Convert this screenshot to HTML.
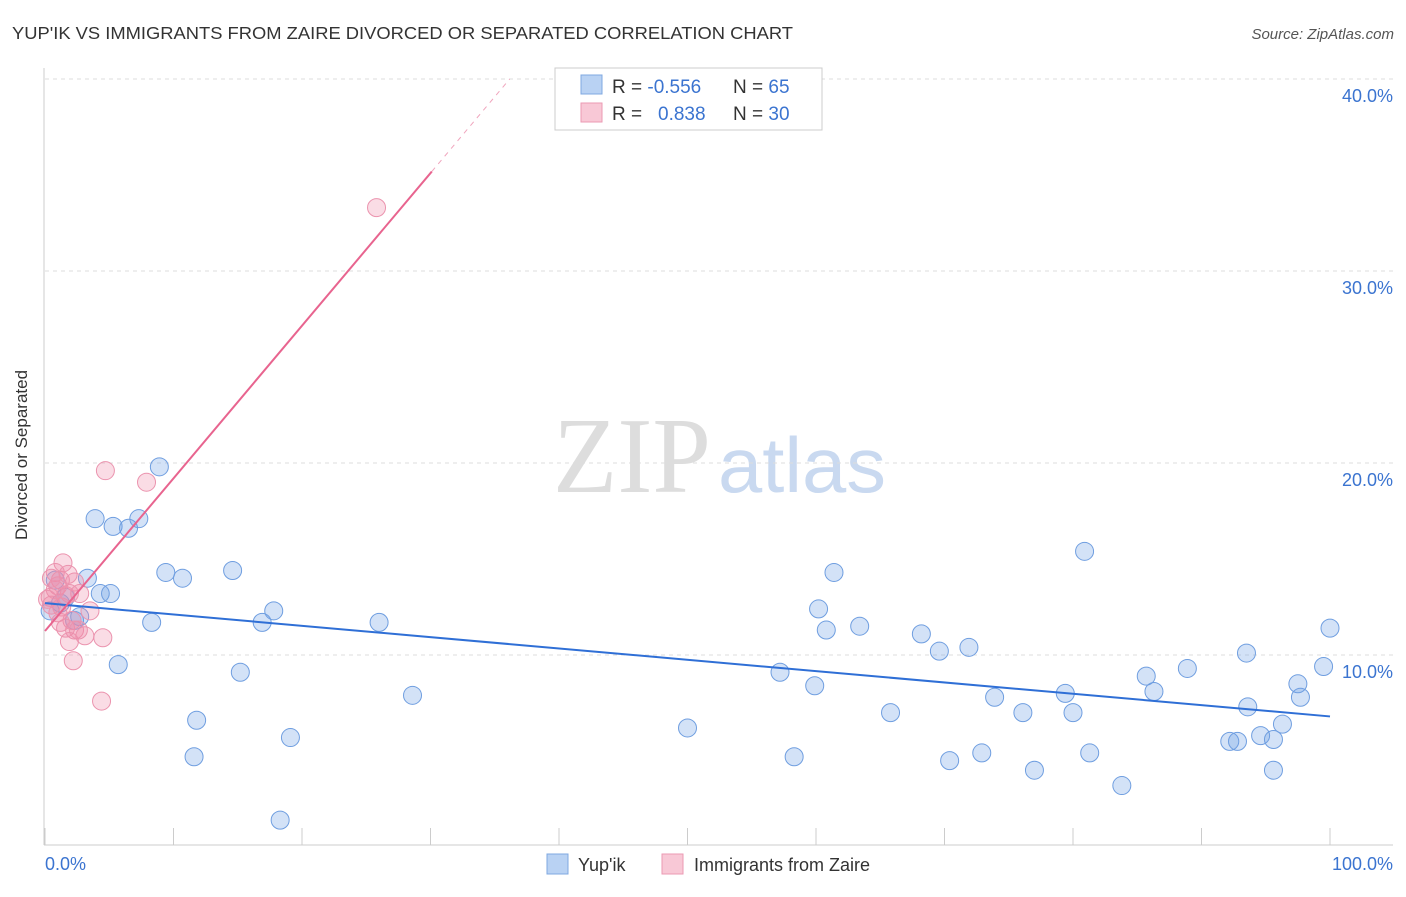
<!DOCTYPE html>
<html><head><meta charset="utf-8"><style>
body{margin:0;background:#fff;font-family:"Liberation Sans",sans-serif;}
</style></head><body>
<svg width="1406" height="892" xmlns="http://www.w3.org/2000/svg">
<text x="12" y="39" font-size="17.5" fill="#333" textLength="781" lengthAdjust="spacingAndGlyphs">YUP'IK VS IMMIGRANTS FROM ZAIRE DIVORCED OR SEPARATED CORRELATION CHART</text>
<text x="1394" y="39" font-size="15" fill="#555" text-anchor="end" font-style="italic">Source: ZipAtlas.com</text>
<text x="553" y="492" font-size="108" fill="#ddd" font-family="Liberation Serif,serif" textLength="158" lengthAdjust="spacingAndGlyphs">ZIP</text>
<text x="718" y="492" font-size="78" fill="#c9d9f0" textLength="168" lengthAdjust="spacingAndGlyphs">atlas</text>
<g id="grid"></g>
<line x1="44" y1="68" x2="44" y2="845" stroke="#ccc"/>
<line x1="44" y1="845" x2="1393" y2="845" stroke="#ccc"/>
<g id="ticks"></g>
<text x="27" y="455" font-size="17" fill="#333" transform="rotate(-90 27 455)" text-anchor="middle">Divorced or Separated</text>
<g id="pts"></g>
<g id="lines"></g>
<g>
<rect x="555" y="68" width="267" height="62" fill="#fff" stroke="#ccc"/>
<rect x="581" y="75" width="21" height="19" fill="#b9d2f3" stroke="#7fa8e0"/>
<rect x="581" y="103" width="21" height="19" fill="#f8c8d6" stroke="#eb9ab3"/>
<text x="612" y="93" font-size="19" fill="#333">R = <tspan fill="#3b74d0">-0.556</tspan></text>
<text x="733" y="93" font-size="19" fill="#333">N = <tspan fill="#3b74d0">65</tspan></text>
<text x="612" y="120" font-size="19" fill="#333">R = <tspan fill="#3b74d0" x="658">0.838</tspan></text>
<text x="733" y="120" font-size="19" fill="#333">N = <tspan fill="#3b74d0">30</tspan></text>
</g>
<g>
<rect x="547" y="854" width="21" height="20" fill="#b9d2f3" stroke="#7fa8e0"/>
<text x="578" y="871" font-size="18" fill="#333">Yup'ik</text>
<rect x="662" y="854" width="21" height="20" fill="#f8c8d6" stroke="#eb9ab3"/>
<text x="694" y="871" font-size="18" fill="#333">Immigrants from Zaire</text>
</g>
</svg>
<script>
const blueX=[8.9,3.9,5.3,6.5,7.3,9.4,10.7,14.6,3.3,4.3,5.1,17.8,8.3,16.9,26.0,5.7,15.2,28.6,11.8,11.6,19.1,18.3,50.0,57.2,58.3,59.9,60.2,60.8,61.4,63.4,65.8,68.2,69.6,70.4,71.9,72.9,73.9,76.1,77.0,79.4,80.0,80.9,81.3,83.8,85.7,86.3,88.9,92.2,92.8,93.5,93.6,94.6,95.6,95.6,96.3,97.5,97.7,99.5,100,0.8,1.2,1.6,2.7,2.3,0.4];
const blueY=[19.8,17.1,16.7,16.6,17.1,14.3,14.0,14.4,14.0,13.2,13.2,12.3,11.7,11.7,11.7,9.5,9.1,7.9,6.6,4.7,5.7,1.4,6.2,9.1,4.7,8.4,12.4,11.3,14.3,11.5,7.0,11.1,10.2,4.5,10.4,4.9,7.8,7.0,4.0,8.0,7.0,15.4,4.9,3.2,8.9,8.1,9.3,5.5,5.5,10.1,7.3,5.8,5.6,4.0,6.4,8.5,7.8,9.4,11.4,13.9,12.7,13.0,12.0,11.8,12.3];
const pinkX=[25.8,4.7,7.9,1.4,0.8,1.2,1.0,2.3,2.7,1.9,0.4,0.5,1.3,3.5,2.1,1.6,2.3,3.1,4.5,1.9,2.2,4.4,0.8,0.2,1.0,1.6,2.6,1.8,0.5,1.2];
const pinkY=[33.3,19.6,19.0,14.8,14.3,13.9,13.6,13.8,13.2,13.2,13.0,12.6,12.5,12.3,11.8,11.4,11.3,11.0,10.9,10.7,9.7,7.6,13.4,12.9,12.2,13.1,11.3,14.2,14.0,11.7];
const yTicks=[10,20,30,40];
const yTickLabels=["10.0%","20.0%","30.0%","40.0%"];
const xTicks=[0,10,20,30,40,50,60,70,80,90,100];
const blueTrend=[12.7,6.8];   // y at x=0, x=100
const pinkTrend=[11.25,0.795]; // intercept, slope
const sx=v=>45+v*12.85, sy=v=>847-v*19.2;
const NS="http://www.w3.org/2000/svg";
function mk(t,a,p){const e=document.createElementNS(NS,t);for(const k in a)e.setAttribute(k,a[k]);p.appendChild(e);return e;}
const grid=document.getElementById('grid');
const tl=mk('line',{x1:45,y1:79,x2:1393,y2:79,stroke:'#ddd','stroke-dasharray':'4,4'},grid);


yTicks.forEach((v,i)=>{
 const l=mk('line',{x1:45,y1:sy(v),x2:1393,y2:sy(v),stroke:'#ddd','stroke-dasharray':'4,4'},grid);
 
 
 const t=mk('text',{x:1393,y:sy(v)+23,'font-size':18,fill:'#3b74d0','text-anchor':'end'},grid);
 t.textContent=yTickLabels[i];
 
 
});
const tk=document.getElementById('ticks');
xTicks.forEach(v=>{
 const l=mk('line',{x1:sx(v),y1:828,x2:sx(v),y2:845,stroke:'#ccc'},tk);
 
 
});
const x0=mk('text',{x:45,y:870,'font-size':18,fill:'#3b74d0'},tk);x0.textContent='0.0%';


const x1=mk('text',{x:1393,y:870,'font-size':18,fill:'#3b74d0','text-anchor':'end'},tk);x1.textContent='100.0%';


const pts=document.getElementById('pts');
blueX.forEach((x,i)=>{
 const c=mk('circle',{cx:sx(x),cy:sy(blueY[i]),r:9,fill:'rgba(110,160,230,0.3)',stroke:'#6f9ee0','stroke-width':1},pts);
 
 
});
pinkX.forEach((x,i)=>{
 const c=mk('circle',{cx:sx(x),cy:sy(pinkY[i]),r:9,fill:'rgba(240,140,170,0.3)',stroke:'#eb93ae','stroke-width':1},pts);
 
 
});
const ln=document.getElementById('lines');
const b=mk('line',{x1:sx(0),y1:sy(blueTrend[0]),x2:sx(100),y2:sy(blueTrend[1]),stroke:'#2f6fd6','stroke-width':2},ln);


const pe=30.1, pd=(40-pinkTrend[0])/pinkTrend[1];
const p=mk('line',{x1:sx(0),y1:sy(pinkTrend[0]),x2:sx(pe),y2:sy(pinkTrend[0]+pinkTrend[1]*pe),stroke:'#e8648f','stroke-width':2},ln);


const pd2=mk('line',{x1:sx(pe),y1:sy(pinkTrend[0]+pinkTrend[1]*pe),x2:sx(pd),y2:sy(40),stroke:'#f0a5bd','stroke-width':1,'stroke-dasharray':'5,5'},ln);


</script>
</body></html>
